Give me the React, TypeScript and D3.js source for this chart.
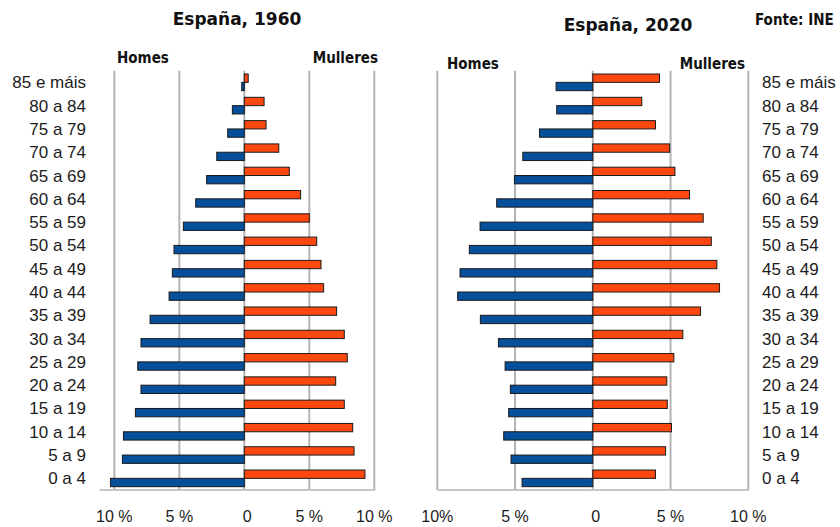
import React from 'react';
import * as d3 from 'd3';

// age groups, top of the pyramid first
const ageGroups = [
  '85 e máis', '80 a 84', '75 a 79', '70 a 74', '65 a 69', '60 a 64',
  '55 a 59', '50 a 54', '45 a 49', '40 a 44', '35 a 39', '30 a 34',
  '25 a 29', '20 a 24', '15 a 19', '10 a 14', '5 a 9', '0 a 4',
];

// % of each sex per age group
const homes1960 = [0.2, 0.92, 1.28, 2.12, 2.9, 3.74, 4.69, 5.41, 5.54, 5.79, 7.25, 7.95, 8.2, 7.95, 8.38, 9.3, 9.38, 10.3];
const mulleres1960 = [0.3, 1.52, 1.67, 2.65, 3.46, 4.33, 5.0, 5.57, 5.9, 6.1, 7.1, 7.69, 7.92, 7.03, 7.69, 8.34, 8.44, 9.28];
const homes2020 = [2.36, 2.32, 3.43, 4.5, 5.04, 6.18, 7.25, 7.94, 8.54, 8.69, 7.23, 6.07, 5.64, 5.3, 5.41, 5.73, 5.26, 4.55];
const mulleres2020 = [4.29, 3.15, 4.03, 4.94, 5.28, 6.22, 7.1, 7.62, 7.98, 8.15, 6.93, 5.79, 5.21, 4.76, 4.79, 5.06, 4.68, 4.03];

const tickValues = [-10, -5, 0, 5, 10];
const tickLabels1960 = ['10 %', '5 %', '0', '5 %', '10 %'];
const tickLabels2020 = ['10%', '5 %', '0', '5 %', '10 %'];

const BLUE = '#064f9b';
const ORANGE = '#ff4710';
const GRID = '#b4b4b4';
const TEXT = '#1c1c1c';
const labelFont = '"Liberation Sans", Arial, sans-serif';
const boldFont = '"DejaVu Sans", Verdana, sans-serif';
const condFont = '"DejaVu Sans Condensed", "DejaVu Sans", sans-serif';

const TOP = 70.7;
const BOTTOM = 490;

const Pyramid = ({ homes, mulleres, domain, range, tickLabels, labelSide, labelX }) => {
  const x = d3.scaleLinear().domain(domain).range(range);
  const y = d3.scaleBand().domain(ageGroups).range([TOP, BOTTOM]);
  const sub = d3.scaleBand().domain(['M', 'H']).range([0, y.bandwidth()]).paddingOuter(0.4);

  return (
    <g>
      {tickValues.map((t) => (
        <line key={t} x1={x(t)} x2={x(t)} y1={TOP} y2={BOTTOM} stroke={GRID} strokeWidth={2} />
      ))}
      <line x1={range[0]} x2={range[1] + 1} y1={BOTTOM} y2={BOTTOM} stroke="#c8c8c8" strokeWidth={2} />
      {ageGroups.map((g, i) => (
        <g key={g}>
          <rect
            x={x(0)}
            y={y(g) + sub('M')}
            width={x(mulleres[i]) - x(0)}
            height={sub.bandwidth()}
            fill={ORANGE}
            stroke="#1a1a1a"
            strokeWidth={1}
          />
          <rect
            x={x(-homes[i])}
            y={y(g) + sub('H')}
            width={x(0) - x(-homes[i])}
            height={sub.bandwidth()}
            fill={BLUE}
            stroke="#1a1a1a"
            strokeWidth={1}
          />
          <text
            x={labelX}
            y={y(g) + y.bandwidth() / 2 + 6}
            textAnchor={labelSide === 'left' ? 'end' : 'start'}
            fontFamily={labelFont}
            fontSize={17}
            fill={TEXT}
          >
            {g}
          </text>
        </g>
      ))}
      {tickValues.map((t, i) => (
        <text
          key={'l' + t}
          x={x(t) + (t === 0 ? 3 : 0)}
          y={522}
          textAnchor="middle"
          fontFamily={labelFont}
          fontSize={16}
          fill={TEXT}
        >
          {tickLabels[i]}
        </text>
      ))}
    </g>
  );
};

export default function App() {
  return (
    <svg
      width={840}
      height={527}
      style={{ position: 'absolute', left: 0, top: 0, background: '#fff' }}
    >
      <rect width={840} height={527} fill="#fff" />
      <text x={237} y={25} textAnchor="middle" fontFamily={boldFont} fontWeight="bold" fontSize={17} fill="#111">
        España, 1960
      </text>
      <text x={628} y={30.5} textAnchor="middle" fontFamily={boldFont} fontWeight="bold" fontSize={17} fill="#111">
        España, 2020
      </text>
      <text x={755} y={25} fontFamily={condFont} fontWeight="bold" fontSize={15} fill="#111">
        Fonte: INE
      </text>

      <text x={117} y={62.5} fontFamily={condFont} fontWeight="bold" fontSize={15} fill="#111">Homes</text>
      <text x={378} y={62.5} textAnchor="end" fontFamily={condFont} fontWeight="bold" fontSize={15} fill="#111">Mulleres</text>
      <text x={447} y={69} fontFamily={condFont} fontWeight="bold" fontSize={15} fill="#111">Homes</text>
      <text x={745} y={69} textAnchor="end" fontFamily={condFont} fontWeight="bold" fontSize={15} fill="#111">Mulleres</text>

      <Pyramid
        homes={homes1960}
        mulleres={mulleres1960}
        domain={[-11.15, 10]}
        range={[99.4, 374.3]}
        tickLabels={tickLabels1960}
        labelSide="left"
        labelX={86}
      />
      <Pyramid
        homes={homes2020}
        mulleres={mulleres2020}
        domain={[-10, 10]}
        range={[437.3, 748.3]}
        tickLabels={tickLabels2020}
        labelSide="right"
        labelX={762}
      />
    </svg>
  );
}
